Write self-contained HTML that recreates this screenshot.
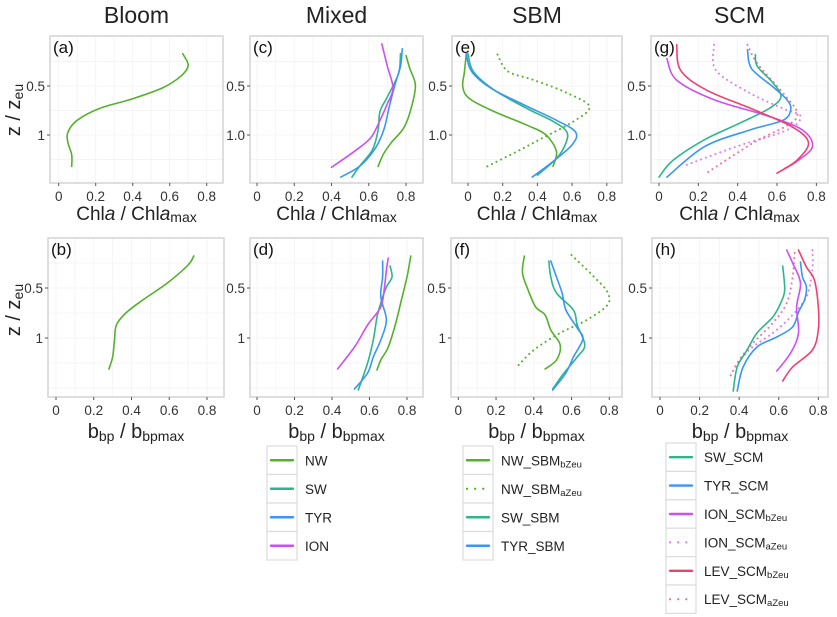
<!DOCTYPE html>
<html><head><meta charset="utf-8">
<style>
html,body{margin:0;padding:0;background:#fff;}
svg{display:block;font-family:"Liberation Sans",Arial,sans-serif;}
</style></head>
<body>
<svg id="fig" width="837" height="617" viewBox="0 0 837 617" xmlns="http://www.w3.org/2000/svg"></svg>
<script>
// ---- data: each series is [x, z] pairs (x = normalised value, z = z/zeu)
const aNW = [[0.67,0.17],[0.70,0.29],[0.66,0.40],[0.56,0.52],[0.40,0.63],[0.22,0.73],[0.10,0.85],[0.05,0.97],[0.05,1.08],[0.07,1.20],[0.07,1.32]];
const bNW = [[0.73,0.18],[0.70,0.27],[0.59,0.45],[0.46,0.62],[0.37,0.75],[0.32,0.87],[0.31,1.02],[0.30,1.19],[0.28,1.31]];
const cNW = [[0.80,0.19],[0.82,0.32],[0.85,0.49],[0.83,0.71],[0.79,0.92],[0.72,1.08],[0.68,1.19],[0.65,1.32]];
const cSW = [[0.77,0.17],[0.76,0.37],[0.70,0.61],[0.66,0.76],[0.65,0.95],[0.62,1.15],[0.55,1.32],[0.51,1.43]];
const cTYR = [[0.78,0.12],[0.77,0.30],[0.74,0.49],[0.71,0.71],[0.68,0.95],[0.63,1.15],[0.55,1.32],[0.45,1.43]];
const cION = [[0.67,0.07],[0.70,0.30],[0.73,0.52],[0.70,0.68],[0.66,0.85],[0.61,1.03],[0.52,1.17],[0.40,1.33]];
const dNW = [[0.82,0.18],[0.80,0.39],[0.77,0.62],[0.74,0.85],[0.70,1.09],[0.66,1.22],[0.64,1.32]];
const dSW = [[0.71,0.28],[0.72,0.39],[0.69,0.49],[0.66,0.65],[0.64,0.79],[0.62,1.02],[0.59,1.25],[0.54,1.52]];
const dTYR = [[0.67,0.23],[0.67,0.39],[0.66,0.59],[0.69,0.82],[0.66,1.02],[0.62,1.19],[0.59,1.35],[0.52,1.51]];
const dION = [[0.70,0.20],[0.69,0.32],[0.68,0.49],[0.66,0.69],[0.59,0.87],[0.52,1.09],[0.43,1.31]];
const eNWb = [[-0.01,0.17],[-0.02,0.35],[-0.03,0.51],[0.01,0.63],[0.15,0.76],[0.34,0.90],[0.45,1.00],[0.51,1.17],[0.49,1.32]];
const eNWa = [[0.17,0.18],[0.23,0.35],[0.38,0.44],[0.57,0.57],[0.70,0.71],[0.61,0.86],[0.43,1.03],[0.28,1.17],[0.10,1.33]];
const eSW = [[0.00,0.17],[0.03,0.35],[0.15,0.54],[0.34,0.73],[0.49,0.86],[0.57,0.97],[0.56,1.10],[0.51,1.24],[0.40,1.41]];
const eTYR = [[-0.01,0.17],[0.02,0.35],[0.13,0.52],[0.32,0.69],[0.51,0.85],[0.62,0.97],[0.60,1.10],[0.49,1.27],[0.37,1.43]];
const fNWb = [[0.35,0.18],[0.34,0.35],[0.37,0.52],[0.41,0.69],[0.46,0.77],[0.49,0.92],[0.54,1.07],[0.52,1.22],[0.46,1.31]];
const fNWa = [[0.60,0.17],[0.72,0.39],[0.79,0.54],[0.79,0.67],[0.68,0.82],[0.54,0.95],[0.40,1.12],[0.31,1.29]];
const fSW = [[0.48,0.23],[0.49,0.39],[0.52,0.55],[0.61,0.72],[0.63,0.87],[0.67,1.07],[0.63,1.19],[0.56,1.35],[0.50,1.51]];
const fTYR = [[0.49,0.23],[0.52,0.39],[0.55,0.55],[0.57,0.72],[0.63,0.90],[0.66,1.01],[0.61,1.19],[0.57,1.35],[0.50,1.52]];
const gSW = [[0.49,0.18],[0.50,0.30],[0.58,0.47],[0.62,0.61],[0.56,0.73],[0.41,0.88],[0.23,1.05],[0.07,1.26],[0.00,1.43]];
const gTYR = [[0.45,0.13],[0.47,0.32],[0.58,0.51],[0.65,0.64],[0.67,0.74],[0.63,0.85],[0.46,0.95],[0.23,1.12],[0.04,1.43]];
const gIONb = [[0.04,0.22],[0.09,0.44],[0.28,0.64],[0.56,0.81],[0.73,0.95],[0.78,1.12],[0.70,1.27],[0.64,1.34]];
const gLEVb = [[0.09,0.08],[0.11,0.34],[0.24,0.54],[0.48,0.74],[0.68,0.92],[0.76,1.08],[0.70,1.26],[0.60,1.39]];
const gIONa = [[0.28,0.08],[0.29,0.34],[0.46,0.57],[0.63,0.73],[0.72,0.81],[0.65,0.95],[0.39,1.12],[0.12,1.32]];
const gLEVa = [[0.45,0.08],[0.50,0.27],[0.63,0.57],[0.70,0.76],[0.67,0.88],[0.48,1.08],[0.24,1.39]];
const hSW = [[0.62,0.28],[0.63,0.52],[0.61,0.65],[0.57,0.79],[0.49,0.95],[0.44,1.12],[0.39,1.29],[0.37,1.53]];
const hTYR = [[0.71,0.24],[0.72,0.39],[0.74,0.49],[0.73,0.62],[0.70,0.74],[0.67,0.89],[0.59,0.99],[0.49,1.09],[0.42,1.29],[0.39,1.53]];
const hIONb = [[0.64,0.12],[0.67,0.25],[0.71,0.45],[0.69,0.69],[0.70,0.95],[0.66,1.15],[0.59,1.33]];
const hLEVb = [[0.70,0.12],[0.74,0.29],[0.78,0.42],[0.80,0.69],[0.80,0.92],[0.77,1.12],[0.67,1.29],[0.62,1.43]];
const hIONa = [[0.77,0.12],[0.77,0.32],[0.74,0.59],[0.66,0.79],[0.57,0.95],[0.45,1.12],[0.37,1.32]];
const hLEVa = [[0.68,0.15],[0.67,0.39],[0.64,0.65],[0.57,0.85],[0.47,1.05],[0.40,1.22],[0.35,1.40]];

const xTicks = [0,0.2,0.4,0.6,0.8];
const xTickLabels = ["0","0.2","0.4","0.6","0.8"];
const yTicks = [0.5,1];
const titles = ["Bloom","Mixed","SBM","SCM"];
const legMixed = ["NW","SW","TYR","ION"];
const legSBM = ["NW_SBM|bZeu","NW_SBM|aZeu","SW_SBM","TYR_SBM"];
const legSCM = ["SW_SCM","TYR_SCM","ION_SCM|bZeu","ION_SCM|aZeu","LEV_SCM|bZeu","LEV_SCM|aZeu"];

const C = {NW:"#55b02c",SW:"#2db58c",TYR:"#3a96f5",ION:"#cf4ff0",LEV:"#f0406f",IONd:"#e07cf3",LEVd:"#f5719a"};
const svg = document.getElementById('fig');
const NS = "http://www.w3.org/2000/svg";
function mk(tag, attrs, parent){const e=document.createElementNS(NS,tag);for(const k in attrs)e.setAttribute(k,attrs[k]);(parent||svg).appendChild(e);return e;}
function smooth(pts){
  let d='M'+pts[0][0].toFixed(1)+' '+pts[0][1].toFixed(1);
  for(let i=0;i<pts.length-1;i++){
    const p0=pts[Math.max(i-1,0)],p1=pts[i],p2=pts[i+1],p3=pts[Math.min(i+2,pts.length-1)];
    const c1=[p1[0]+(p2[0]-p0[0])/6,p1[1]+(p2[1]-p0[1])/6];
    const c2=[p2[0]-(p3[0]-p1[0])/6,p2[1]-(p3[1]-p1[1])/6];
    d+=' C'+c1[0].toFixed(1)+' '+c1[1].toFixed(1)+' '+c2[0].toFixed(1)+' '+c2[1].toFixed(1)+' '+p2[0].toFixed(1)+' '+p2[1].toFixed(1);
  }
  return d;
}

const panels = [
 {id:"a",l:50,r:223,t:36,b:183,x0:58.7,xs:185,z0:37,zs:98,yl:["0.5","1"],xt:"chl"},
 {id:"c",l:250,r:423,t:36,b:183,x0:257,xs:186.3,z0:37,zs:98,yl:["0.5","1.0"],xt:"chl"},
 {id:"e",l:452,r:622,t:36,b:183,x0:468,xs:173.5,z0:37,zs:98,yl:["0.5","1.0"],xt:"chl"},
 {id:"g",l:651,r:828,t:36,b:183,x0:659,xs:196.7,z0:37,zs:98,yl:["0.5","1.0"],xt:"chl"},
 {id:"b",l:48,r:224,t:238,b:397,x0:56,xs:188.75,z0:238,zs:100,yl:["0.5","1"],xt:"bbp"},
 {id:"d",l:250,r:423,t:238,b:397,x0:257,xs:187.5,z0:238,zs:100,yl:["0.5","1"],xt:"bbp"},
 {id:"f",l:451,r:622,t:238,b:397,x0:458.3,xs:188.75,z0:238,zs:100,yl:["0.5","1"],xt:"bbp"},
 {id:"h",l:652,r:828,t:238,b:397,x0:660,xs:197.9,z0:238,zs:100,yl:["0.5","1"],xt:"bbp"}
];
const series = {
 a:[[aNW,C.NW,0]], b:[[bNW,C.NW,0]],
 c:[[cNW,C.NW,0],[cSW,C.SW,0],[cTYR,C.TYR,0],[cION,C.ION,0]],
 d:[[dNW,C.NW,0],[dSW,C.SW,0],[dTYR,C.TYR,0],[dION,C.ION,0]],
 e:[[eNWa,C.NW,1],[eNWb,C.NW,0],[eSW,C.SW,0],[eTYR,C.TYR,0]],
 f:[[fNWa,C.NW,1],[fNWb,C.NW,0],[fSW,C.SW,0],[fTYR,C.TYR,0]],
 g:[[gIONa,C.IONd,1],[gLEVa,C.LEVd,1],[gSW,C.SW,0],[gTYR,C.TYR,0],[gIONb,C.ION,0],[gLEVb,C.LEV,0]],
 h:[[hIONa,C.IONd,1],[hLEVa,C.LEVd,1],[hSW,C.SW,0],[hTYR,C.TYR,0],[hIONb,C.ION,0],[hLEVb,C.LEV,0]]
};

titles.forEach((t,i)=>{
  const p=panels[i];
  const e=mk('text',{x:(p.l+p.r)/2,y:23,'text-anchor':'middle','font-size':23,fill:'#222'});
  
  
  e.textContent=t;
});

panels.forEach(p=>{
  const g=mk('g',{});
  
  
  const X=v=>p.x0+v*p.xs, Y=z=>p.z0+z*p.zs;
  for(let v=-0.1;v<=0.95;v+=0.1){const x=X(v);if(x>p.l&&x<p.r)mk('line',{x1:x,x2:x,y1:p.t,y2:p.b,stroke:'#f3f3f3','stroke-width':0.8},g);}
  [0.25,0.5,0.75,1,1.25,1.5].forEach(z=>{const y=Y(z);if(y>p.t&&y<p.b)mk('line',{x1:p.l,x2:p.r,y1:y,y2:y,stroke:'#f0f0f0','stroke-width':0.8},g);});
  const fr=mk('rect',{x:p.l,y:p.t,width:p.r-p.l,height:p.b-p.t,fill:'none',stroke:'#d6d6d6','stroke-width':1.6},g);
  
  
  xTicks.forEach((v,i)=>{
    const x=X(v);
    mk('line',{x1:x,x2:x,y1:p.b,y2:p.b+3,stroke:'#555','stroke-width':1},g);
    const t=mk('text',{x:x,y:p.b+18,'text-anchor':'middle','font-size':13.5,fill:'#333'},g);
    
    
    t.textContent=xTickLabels[i];
  });
  yTicks.forEach((z,i)=>{
    const y=Y(z);
    mk('line',{x1:p.l-3,x2:p.l,y1:y,y2:y,stroke:'#555','stroke-width':1},g);
    const t=mk('text',{x:p.l-5,y:y+5,'text-anchor':'end','font-size':13.5,fill:'#333'},g);
    
    
    t.textContent=p.yl[i];
  });
  const lt=mk('text',{x:p.l+3,y:p.t+17,'font-size':17,fill:'#111'},g);
  
  
  lt.textContent='('+p.id+')';
  series[p.id].forEach(s=>{
    const d=smooth(s[0].map(pt=>[X(pt[0]),Y(pt[1])]));
    const path=mk('path',{d:d,fill:'none',stroke:s[1],'stroke-width':s[2]?2:1.6,'stroke-linejoin':'round','stroke-linecap':'round','stroke-dasharray':s[2]?'0.1 5':'none'},g);
    
    
  });
  const cx=(p.l+p.r)/2;
  const xt=mk('text',{x:cx,y:p.id.match(/[aceg]/)?p.b+37:p.b+41,'text-anchor':'middle','font-size':p.xt==='chl'?19:20,fill:'#222'},g);
  
  
  if(p.xt==='chl'){
    xt.innerHTML='<tspan>Chl</tspan><tspan font-style="italic">a</tspan><tspan> / Chl</tspan><tspan font-style="italic">a</tspan><tspan font-size="14" dy="2">max</tspan>';
  } else {
    xt.innerHTML='<tspan>b</tspan><tspan font-size="14" dy="3">bp</tspan><tspan dy="-3"> / b</tspan><tspan font-size="14" dy="3">bpmax</tspan>';
  }
});

[[20,110],[20,310]].forEach(c=>{
  const t=mk('text',{x:0,y:0,'text-anchor':'middle','font-size':20,fill:'#222',transform:`translate(${c[0]},${c[1]}) rotate(-90)`});
  
  
  t.innerHTML='z / z<tspan font-size="14" dy="3">eu</tspan>';
});

function legend(x,y,rows,colors,dotted,name,rh){
  const g=mk('g',{});
  
  
  rows.forEach((lab,i)=>{
    const ry=y+i*rh;
    mk('rect',{x:x,y:ry,width:30,height:rh,fill:'#fff',stroke:'#dcdcdc','stroke-width':1.2},g);
    mk('line',{x1:x+4,x2:x+26,y1:ry+rh/2,y2:ry+rh/2,stroke:colors[i],'stroke-width':dotted[i]?2.2:2.4,'stroke-linecap':'round','stroke-dasharray':dotted[i]?'0.1 8':'none'},g);
    const parts=lab.split('|');
    const t=mk('text',{x:x+38,y:ry+rh/2+5,'font-size':13.5,fill:'#222'},g);
    
    
    t.innerHTML=parts[0]+(parts[1]?'<tspan font-size="9.5" dy="2">'+parts[1]+'</tspan>':'');
  });
}
legend(267,446,legMixed,[C.NW,C.SW,C.TYR,C.ION],[0,0,0,0],'legend-mixed',28.5);
legend(463,446,legSBM,[C.NW,C.NW,C.SW,C.TYR],[0,1,0,0],'legend-sbm',28.5);
legend(666,443,legSCM,[C.SW,C.TYR,C.ION,C.IONd,C.LEV,C.LEVd],[0,0,0,1,0,1],'legend-scm',28.4);
</script>
</body></html>
